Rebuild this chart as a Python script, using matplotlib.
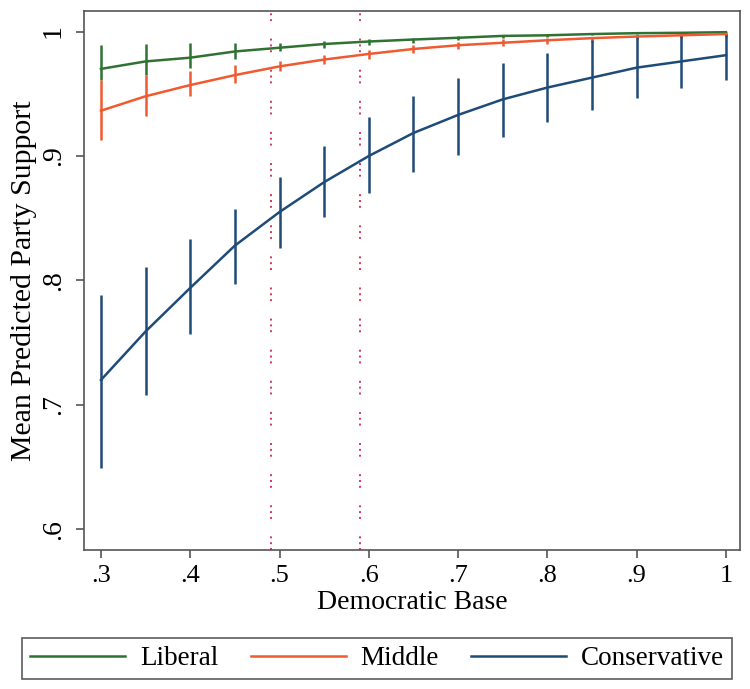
import matplotlib
matplotlib.use("Agg")
import matplotlib.pyplot as plt

plt.rcParams['font.family'] = ['Liberation Serif', 'DejaVu Serif']

# values
dem_base = [0.30, 0.35, 0.40, 0.45, 0.50, 0.55, 0.60, 0.65, 0.70, 0.75, 0.80, 0.85, 0.90, 0.95, 1.00]

liberal = [0.970, 0.976, 0.979, 0.984, 0.987, 0.990, 0.992, 0.9936, 0.995, 0.9965, 0.997, 0.998, 0.9987, 0.999, 0.9995]
liberal_lo = [0.961, 0.965, 0.971, 0.978, 0.984, 0.987, 0.989, 0.991, 0.993, 0.995, 0.996, 0.997, 0.998, 0.9985, 0.999]
liberal_hi = [0.989, 0.990, 0.991, 0.991, 0.991, 0.9925, 0.994, 0.995, 0.9965, 0.9975, 0.998, 0.9985, 0.999, 0.9995, 1.000]

middle = [0.9364, 0.948, 0.957, 0.965, 0.972, 0.9775, 0.982, 0.986, 0.989, 0.991, 0.993, 0.9947, 0.996, 0.997, 0.998]
middle_lo = [0.913, 0.932, 0.948, 0.959, 0.968, 0.974, 0.978, 0.983, 0.986, 0.988, 0.990, 0.992, 0.994, 0.995, 0.996]
middle_hi = [0.961, 0.965, 0.968, 0.973, 0.976, 0.981, 0.985, 0.989, 0.992, 0.994, 0.995, 0.996, 0.997, 0.998, 0.999]

conservative = [0.720, 0.759, 0.794, 0.828, 0.855, 0.879, 0.900, 0.9185, 0.933, 0.9455, 0.955, 0.963, 0.971, 0.976, 0.981]
cons_lo = [0.649, 0.708, 0.757, 0.797, 0.826, 0.851, 0.870, 0.887, 0.901, 0.915, 0.927, 0.937, 0.947, 0.955, 0.961]
cons_hi = [0.788, 0.811, 0.833, 0.857, 0.883, 0.908, 0.931, 0.948, 0.963, 0.975, 0.983, 0.993, 0.997, 0.998, 0.998]

ref_lines = [0.49, 0.59]

x_ticks = [0.3, 0.4, 0.5, 0.6, 0.7, 0.8, 0.9, 1.0]
x_labels = ['.3', '.4', '.5', '.6', '.7', '.8', '.9', '1']
y_ticks = [0.6, 0.7, 0.8, 0.9, 1.0]
y_labels = ['.6', '.7', '.8', '.9', '1']

green = '#2f7232'
orange = '#f05a30'
navy = '#1f4b78'

fig = plt.figure(figsize=(7.5, 6.89), dpi=100)
ax = fig.add_axes([0.112, 0.202, 0.875, 0.782])

series = [
    ('Liberal', liberal, liberal_lo, liberal_hi, green),
    ('Middle', middle, middle_lo, middle_hi, orange),
    ('Conservative', conservative, cons_lo, cons_hi, navy),
]

# confidence spikes first, then the lines
for name, mean, lo, hi, col in series:
    ax.vlines(dem_base, lo, hi, color=col, lw=1.8, zorder=2)
handles = []
for name, mean, lo, hi, col in series:
    h, = ax.plot(dem_base, mean, color=col, lw=1.8, label=name, zorder=3)
    handles.append(h)

for xv in ref_lines:
    ax.axvline(xv, color='#d8345a', lw=1.4, ls=(0, (1, 2, 1, 2, 1, 9)), zorder=1)

ax.set_xlim(0.281, 1.016)
ax.set_ylim(0.5835, 1.0165)

ax.set_xticks(x_ticks)
ax.set_xticklabels(x_labels, fontsize=19)
ax.set_yticks(y_ticks)
ax.set_yticklabels(y_labels, fontsize=20, rotation=90, va='center')
ax.tick_params(axis='both', direction='out', length=6, width=1.2, color='#555555')
ax.tick_params(axis='x', pad=5)
ax.tick_params(axis='y', pad=7)

for sp in ax.spines.values():
    sp.set_color('#555555')
    sp.set_linewidth(1.2)

ax.set_xlabel('Democratic Base', fontsize=20, labelpad=2)
ax.set_ylabel('Mean Predicted Party Support', fontsize=21.5)
ax.yaxis.set_label_coords(-0.072, 0.5)

leg = fig.legend(handles=handles, loc='upper center', bbox_to_anchor=(0.503, 0.074),
                 ncol=3, fontsize=19.5, frameon=True, fancybox=False,
                 handlelength=3.5, handletextpad=0.55, columnspacing=1.2,
                 borderpad=0.3, borderaxespad=0)
leg.get_frame().set_edgecolor('#333333')
leg.get_frame().set_linewidth(1.2)

fig.savefig('out.png', dpi=100)
